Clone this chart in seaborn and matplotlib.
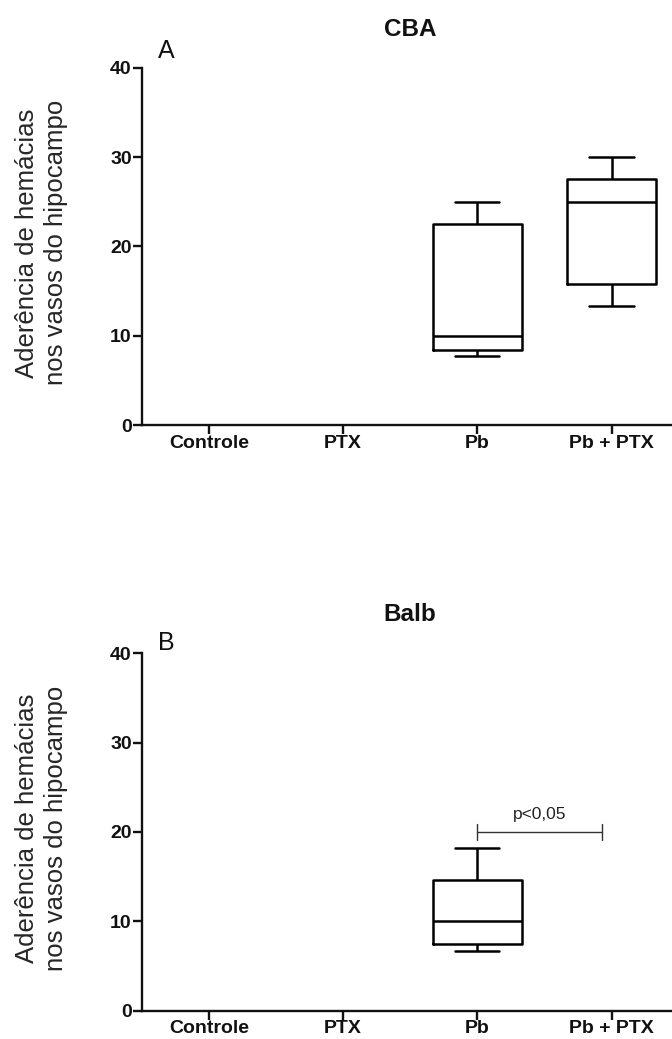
import numpy as np
import pandas as pd
import matplotlib
matplotlib.use("Agg")
import matplotlib.pyplot as plt
import seaborn as sns
from matplotlib.transforms import blended_transform_factory

# ---- data ----
categories = ["Controle", "PTX", "Pb", "Pb + PTX"]
# five-number summaries: min, Q1, median, Q3, max
cba_pb = [7.75, 8.4, 10.0, 22.55, 25.0]
cba_pb_ptx = [13.35, 15.75, 25.0, 27.5, 30.0]
balb_pb = [6.7, 7.45, 10.0, 14.6, 18.15]
y_ticks = [0, 10, 20, 30, 40]
titles = ["CBA", "Balb"]
panel_letters = ["A", "B"]
ylabel_text = "Aderência de hemácias\nnos vasos do hipocampo"
sig_label = "p<0,05"
sig_value = 20
sig_groups = (2, 2.93)

df_cba = pd.DataFrame({
    "grupo": ["Pb"] * len(cba_pb) + ["Pb + PTX"] * len(cba_pb_ptx),
    "valor": cba_pb + cba_pb_ptx,
})
df_balb = pd.DataFrame({
    "grupo": ["Pb"] * len(balb_pb),
    "valor": balb_pb,
})

sns.set_theme(style="ticks")
plt.rcParams["font.family"] = ["Liberation Sans", "DejaVu Sans"]

fig = plt.figure(figsize=(6.72, 10.39), dpi=100)
ax_top = fig.add_axes([0.2109, 0.5908, 0.7891, 0.3441])
ax_bot = fig.add_axes([0.2109, 0.02724, 0.7891, 0.3441])

letter_y = [1.028, 1.008]

for ax, df, title, letter, ly in zip([ax_top, ax_bot], [df_cba, df_balb], titles,
                                     panel_letters, letter_y):
    sns.boxplot(data=df, x="grupo", y="valor", order=categories, whis=(0, 100),
                width=0.66, fill=False, color="black", linewidth=1.8, ax=ax)
    ax.set_xlim(-0.5, 3.45)
    ax.set_ylim(0, 40)
    ax.set_yticks(y_ticks)
    ax.set_yticklabels([str(t) for t in y_ticks])
    ax.set_xlabel("")
    ax.set_ylabel(ylabel_text, fontsize=18.5, linespacing=1.28, va="center")
    ax.yaxis.set_label_coords(-0.189, 0.51)
    sns.despine(ax=ax)
    for s in ["left", "bottom"]:
        ax.spines[s].set_linewidth(1.7)
        ax.spines[s].set_color("#111111")
    ax.tick_params(axis="both", length=6.2, width=1.7, color="#111111")
    ax.tick_params(axis="y", pad=1.0)
    ax.tick_params(axis="x", pad=0.6)
    for lab in ax.get_xticklabels() + ax.get_yticklabels():
        lab.set_fontsize(14)
        lab.set_fontweight("bold")
        lab.set_color("#111111")
    tr = blended_transform_factory(ax.transData, ax.transAxes)
    ax.text(1.5, 1.089, title, transform=tr, ha="center", va="baseline",
            fontsize=17.5, fontweight="bold", color="#111111")
    ax.text(-0.32, ly, letter, transform=tr, ha="center", va="baseline",
            fontsize=18, color="#111111")

# significance bracket (bottom panel)
tick_h = 0.85
ax_bot.plot([sig_groups[0], sig_groups[1]], [sig_value, sig_value], color="#333333", lw=1.0)
for gx in sig_groups:
    ax_bot.plot([gx, gx], [sig_value - tick_h, sig_value + tick_h], color="#333333", lw=1.0)
ax_bot.text(np.mean(sig_groups), sig_value + 1.4, sig_label, ha="center", va="baseline",
            fontsize=12.5, color="#222222")

fig.savefig("out.png", dpi=100)
